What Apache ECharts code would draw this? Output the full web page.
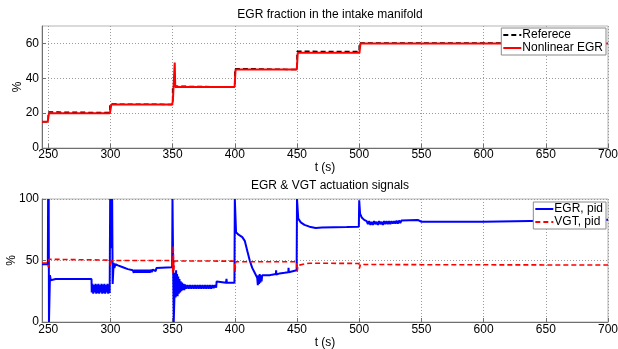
<!DOCTYPE html>
<html>
<head>
<meta charset="utf-8">
<script src="https://cdn.jsdelivr.net/npm/echarts@6/dist/echarts.min.js"></script>
<style>
  html, body { margin: 0; padding: 0; background: #fff; }
  #chart { width: 618px; height: 349px; }
</style>
</head>
<body>
<div id="chart"></div>
<script>
const xTicks = [250, 300, 350, 400, 450, 500, 550, 600, 650, 700];
const yTicksTop = [0, 20, 40, 60];
const yTicksBottom = [0, 50, 100];

// top plot: EGR fraction
const referenceData = [
  [245, 15], [250, 15], [250, 20.6], [258, 20.6], [258, 20.3], [299.6, 20.3], [299.6, 25.2], [300.4, 25.2],
  [300.4, 25], [350, 25], [350, 35.6], [358, 35.4], [358, 35], [400, 35], [400, 45.5], [409, 45.5],
  [409, 45], [450, 45], [450, 55.5], [500, 55.3], [500, 60.3], [700, 60.3]
];
const egrFractionData = [
  [245, 15], [249.6, 15], [250.6, 20], [299.6, 20], [300.8, 25], [349.6, 25], [350.2, 27], [351.4, 27.5],
  [351.7, 49], [352.1, 35], [399.8, 35], [400.6, 45], [449.8, 45], [450.6, 54.6], [500.2, 54.6],
  [501, 60], [700, 60]
];

// bottom plot: actuation signals
const egrPidData = [
  [245, 47], [249.7, 47], [249.9, 100], [250.2, 78], [250.4, 100], [250.6, 0], [251.2, 0], [251.4, 38],
  [252, 34], [253, 35.5], [256, 35], [284.8, 35],
  [285, 24], [285.6, 31], [286.2, 23], [286.8, 30], [287.4, 24], [288, 31], [288.6, 23], [289.2, 30.5],
  [289.8, 23.5], [290.4, 31], [291, 23], [291.6, 30], [292.2, 24], [292.8, 31], [293.4, 23], [294, 30.5],
  [294.6, 23.5], [295.2, 31], [295.8, 23], [296.4, 30], [297, 24], [297.6, 31], [298.2, 23], [298.8, 30.5],
  [299.4, 23.5],
  [299.8, 100], [300.6, 100], [301, 60], [301.4, 100], [301.8, 31], [302.6, 48], [303.2, 44], [304, 47],
  [306, 46], [310, 44.5], [314, 43], [318, 42],
  [318.8, 40], [319.6, 42.5], [320.4, 40], [321.2, 42.5], [322, 40], [322.8, 42.5], [323.6, 40], [324.4, 42.5],
  [325.2, 40], [326, 42.5], [326.8, 40], [327.6, 42.5], [328.4, 40], [329.2, 42.5], [330, 40], [330.8, 42.5],
  [331.6, 40], [332.4, 42.5], [333.2, 40.5], [334, 42.5], [334.8, 41], [335.6, 42.5], [336.4, 41.5],
  [337, 44], [349.6, 44.5],
  [349.9, 100], [350.6, 100], [350.9, 0], [351.6, 0], [352, 40], [352.4, 20], [352.8, 42], [353.2, 22],
  [353.6, 39], [354, 21], [354.5, 37], [355, 23], [355.5, 35], [356, 24], [356.5, 33], [357, 25],
  [357.6, 32], [358.2, 26], [358.8, 31], [359.4, 26], [360, 30.5],
  [361, 27], [362, 30], [363, 27], [364, 30], [365, 27], [366, 30], [367, 27], [368, 30], [369, 27],
  [370, 30], [371, 27], [372, 30], [373, 27], [374, 30], [375, 27], [376, 30], [377, 27], [378, 30],
  [379, 27], [380, 30], [381, 27], [382, 30], [383, 27.5], [384, 30], [385, 28],
  [385.4, 33], [386, 32], [393, 32], [393.3, 35], [393.6, 32], [399.7, 32],
  [400, 100], [400.7, 100], [401, 73], [403, 71], [406, 69], [408, 66], [410, 58], [412, 50], [414, 44],
  [416, 40], [418, 36], [418.5, 30], [419, 38], [419.5, 31], [420, 39], [420.5, 32], [421, 38], [421.5, 33],
  [422, 38], [428, 38], [430, 38.5], [433, 39], [433.2, 42], [433.4, 38.5], [436, 39.5], [440, 40],
  [443, 40.5], [443.2, 44], [443.4, 40.5], [449.7, 42],
  [450, 100], [450.8, 100], [451, 84], [453, 81], [456, 79], [460, 77.5], [465, 76.5], [470, 76.8],
  [480, 77], [490, 77.2], [499.7, 77.5],
  [500, 99], [500.4, 99], [500.7, 88], [502, 85], [504, 83], [506, 82],
  [507, 79.5], [508, 82], [509, 79], [510, 81.5], [511, 79], [512, 82], [513, 79.5], [514, 81.5],
  [515, 79], [516, 82], [517, 79.5], [518, 81.5], [519, 79], [520, 82], [521, 79.5], [522, 82],
  [523, 79.5], [524, 82], [525, 79.5], [526, 82], [527, 80], [528, 82], [529, 80], [530, 82.5],
  [531, 80], [532, 82.5], [533, 80.5], [534, 82.5], [535, 82.5], [547, 83], [547.5, 84.5], [548.5, 82.5],
  [550, 81.5], [600, 81.5], [600.6, 83], [700, 83.2]
];
const vgtPidData = [
  [245, 48], [249.8, 48], [250.1, 44.5], [250.6, 51], [251, 50.6], [299.8, 50.3], [300.1, 45.5],
  [300.8, 50], [349.8, 50], [350.1, 40], [350.5, 62], [350.9, 42], [351.6, 49.6], [399.8, 49.5],
  [400.1, 41], [400.8, 49], [449.8, 49], [450.1, 41], [450.8, 46], [455, 47], [460, 47.8], [499.8, 47.6],
  [500.1, 43.5], [501, 46.8], [550, 46.6], [700, 46.3]
];

const chart = echarts.init(document.getElementById('chart'));

const axisColor = '#6f6f6f';
const labelStyle = { color: '#000', fontSize: 12, fontFamily: 'Liberation Sans, Arial, sans-serif' };

function xAxisFor(gridIndex, margin, nameGap) {
  return {
    type: 'value', gridIndex: gridIndex, min: 245, max: 700,
    name: 't (s)', nameLocation: 'middle', nameGap: nameGap,
    nameTextStyle: labelStyle,
    axisLine: { lineStyle: { color: axisColor } },
    axisTick: { inside: true, length: 4, customValues: xTicks, lineStyle: { color: axisColor } },
    axisLabel: Object.assign({ margin: margin, customValues: xTicks }, labelStyle),
    splitLine: { show: true, lineStyle: { color: '#9a9a9a', type: [1, 2] } }
  };
}

function yAxisFor(gridIndex, max, ticks, nameGap) {
  return {
    type: 'value', gridIndex: gridIndex, min: 0, max: max,
    name: '%', nameLocation: 'middle', nameGap: nameGap, nameRotate: 90,
    nameMoveOverlap: false,
    nameTextStyle: labelStyle,
    axisLine: { show: true, lineStyle: { color: axisColor } },
    axisTick: { show: true, inside: true, length: 4, customValues: ticks, lineStyle: { color: axisColor } },
    axisLabel: Object.assign({ margin: 3, customValues: ticks }, labelStyle),
    splitLine: { show: true, lineStyle: { color: '#9a9a9a', type: [1, 2] } }
  };
}

function legendFor(names, top) {
  return {
    data: names, orient: 'vertical', right: 12, top: top,
    itemWidth: 18, itemHeight: 14, itemGap: 1, padding: [1, 3, 1, 1],
    backgroundColor: '#fff', borderColor: '#8a8a8a', borderWidth: 1,
    itemStyle: { opacity: 0 },
    textStyle: Object.assign({}, labelStyle, { padding: [0, 0, 0, -4] })
  };
}

chart.setOption({
  animation: false,
  backgroundColor: '#fff',
  title: [
    { text: 'EGR fraction in the intake manifold', left: 325, top: 4, textAlign: 'center',
      textStyle: Object.assign({}, labelStyle, { fontWeight: 'normal' }) },
    { text: 'EGR & VGT actuation signals', left: 325, top: 175, textAlign: 'center',
      textStyle: Object.assign({}, labelStyle, { fontWeight: 'normal' }) }
  ],
  grid: [
    { left: 42, right: 10, top: 26, height: 122, show: true, borderColor: '#b5b5b5', borderWidth: 1,
      outerBoundsMode: 'none', containLabel: false },
    { left: 42, right: 10, top: 199, height: 123, show: true, borderColor: '#b5b5b5', borderWidth: 1,
      outerBoundsMode: 'none', containLabel: false }
  ],
  legend: [
    legendFor(['Referece', 'Nonlinear EGR'], 28),
    legendFor(['EGR, pid', 'VGT, pid'], 202)
  ],
  xAxis: [xAxisFor(0, 1, 12), xAxisFor(1, 2, 15)],
  yAxis: [yAxisFor(0, 70, yTicksTop, 18), yAxisFor(1, 100, yTicksBottom, 24)],
  series: [
    {
      name: 'Referece', type: 'line', xAxisIndex: 0, yAxisIndex: 0, data: referenceData,
      symbol: 'none', color: '#000',
      lineStyle: { color: '#000', width: 1.5, type: [5, 3] }
    },
    {
      name: 'Nonlinear EGR', type: 'line', xAxisIndex: 0, yAxisIndex: 0, data: egrFractionData,
      symbol: 'none', color: '#ff0000',
      lineStyle: { color: '#ff0000', width: 2 }
    },
    {
      name: 'EGR, pid', type: 'line', xAxisIndex: 1, yAxisIndex: 1, data: egrPidData,
      symbol: 'none', color: '#0000ff',
      lineStyle: { color: '#0000ff', width: 2 }
    },
    {
      name: 'VGT, pid', type: 'line', xAxisIndex: 1, yAxisIndex: 1, data: vgtPidData,
      symbol: 'none', color: '#ff0000',
      lineStyle: { color: '#ff0000', width: 1.6, type: [5, 3] }
    }
  ]
});
</script>
</body>
</html>
